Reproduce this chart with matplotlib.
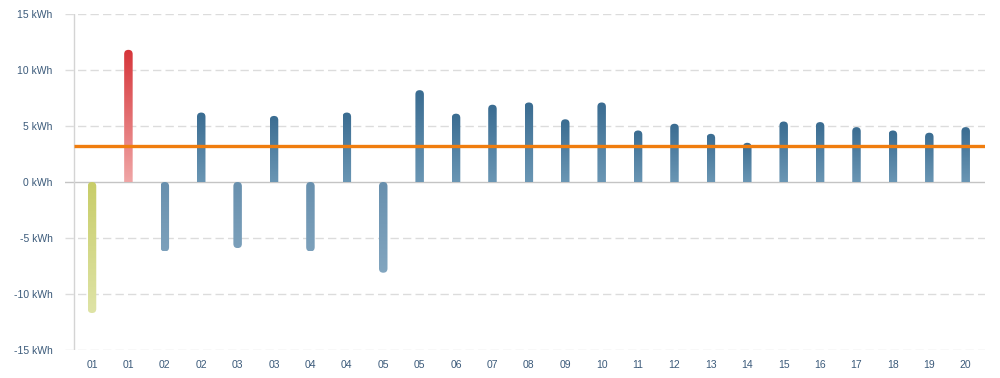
import numpy as np
import matplotlib.pyplot as plt
from matplotlib.colors import LinearSegmentedColormap
from matplotlib.patches import FancyBboxPatch

plt.rcParams['font.family'] = ['Liberation Sans', 'DejaVu Sans']

# dane
etykiety = ['01', '01', '02', '02', '03', '03', '04', '04', '05', '05',
            '06', '07', '08', '09', '10', '11', '12', '13', '14', '15',
            '16', '17', '18', '19', '20']
wartosci = [-11.7, 11.8, -6.2, 6.2, -5.9, 5.9, -6.2, 6.2, -8.1, 8.2,
            6.1, 6.9, 7.1, 5.6, 7.1, 4.6, 5.2, 4.3, 3.5, 5.4,
            5.35, 4.9, 4.6, 4.4, 4.9]
rodzaj = ['zolty', 'czerwony'] + ['niebieski'] * 23
srednia = 3.2
y_ticki = [-15, -10, -5, 0, 5, 10, 15]

gradienty = {
    'zolty': ('#dfe4a8', '#c8cd68'),
    'czerwony': ('#f0a6a6', '#d6353a'),
    'niebieski': ('#6a96b4', '#3a6c91'),
    'niebieski_neg': ('#8fb0c8', '#6890ae'),
}

W, H = 1000, 378
fig = plt.figure(figsize=(W / 100, H / 100), dpi=100)
ax = fig.add_axes([65 / W, 1 - 350 / H, 920 / W, 336 / H])

x0, x1 = -0.742, 24.53
ax.set_xlim(x0, x1)
ax.set_ylim(-15, 15)

# siatka
for t in y_ticki:
    if t == 0:
        ax.axhline(0, color='#c4c4c4', lw=1, zorder=1)
    else:
        ax.axhline(t, color='#dcdcdc', lw=1, dashes=(6, 3), zorder=1)
ax.plot([-0.5, -0.5], [-15, 15], color='#d4d4d4', lw=1, zorder=1)

# słupki z gradientem i zaokrąglonymi końcami
px_x = 920 / (x1 - x0)
px_y = 336 / 30
szer = 8.5 / px_x
promien = szer / 2
aspekt = px_x / px_y

for i, (v, r) in enumerate(zip(wartosci, rodzaj)):
    klucz = 'niebieski_neg' if (r == 'niebieski' and v < 0) else r
    cmap = LinearSegmentedColormap.from_list(klucz, gradienty[klucz])
    grad = np.linspace(0, 1, 256).reshape(-1, 1)
    lewy = i - szer / 2
    if v >= 0:
        patch = FancyBboxPatch((lewy, -1), szer, v + 1,
                               boxstyle=f'round,pad=0,rounding_size={promien}',
                               mutation_aspect=aspekt, transform=ax.transData,
                               facecolor='none', edgecolor='none')
        dol, gora = 0, v
    else:
        patch = FancyBboxPatch((lewy, v), szer, -v,
                               boxstyle=f'round,pad=0,rounding_size={promien}',
                               mutation_aspect=aspekt, transform=ax.transData,
                               facecolor='none', edgecolor='none')
        dol, gora = v, 0
    ax.add_patch(patch)
    g = grad if v >= 0 else grad * (abs(v) / 12) + (1 - abs(v) / 12)
    im = ax.imshow(g, cmap=cmap, vmin=0, vmax=1, origin='lower',
                   extent=[lewy, lewy + szer, dol, gora], aspect='auto',
                   zorder=2, interpolation='bilinear')
    im.set_clip_path(patch)

ax.plot([-0.5, x1], [srednia, srednia], color='#f07d0e', lw=2.4, zorder=3,
        solid_capstyle='butt')

ax.set_xlim(x0, x1)
ax.set_ylim(-15, 15)

ax.set_yticks(y_ticki)
ax.set_yticklabels([f'{t} kWh' for t in y_ticki])
ax.set_xticks(range(len(etykiety)))
ax.set_xticklabels(etykiety)
ax.tick_params(axis='y', length=0, pad=9, labelsize=7.5, labelcolor='#3b5a7a')
ax.tick_params(axis='x', length=0, pad=7, labelsize=7.5, labelcolor='#3b5a7a')
for s in ax.spines.values():
    s.set_visible(False)

fig.savefig('out.png', dpi=100)
